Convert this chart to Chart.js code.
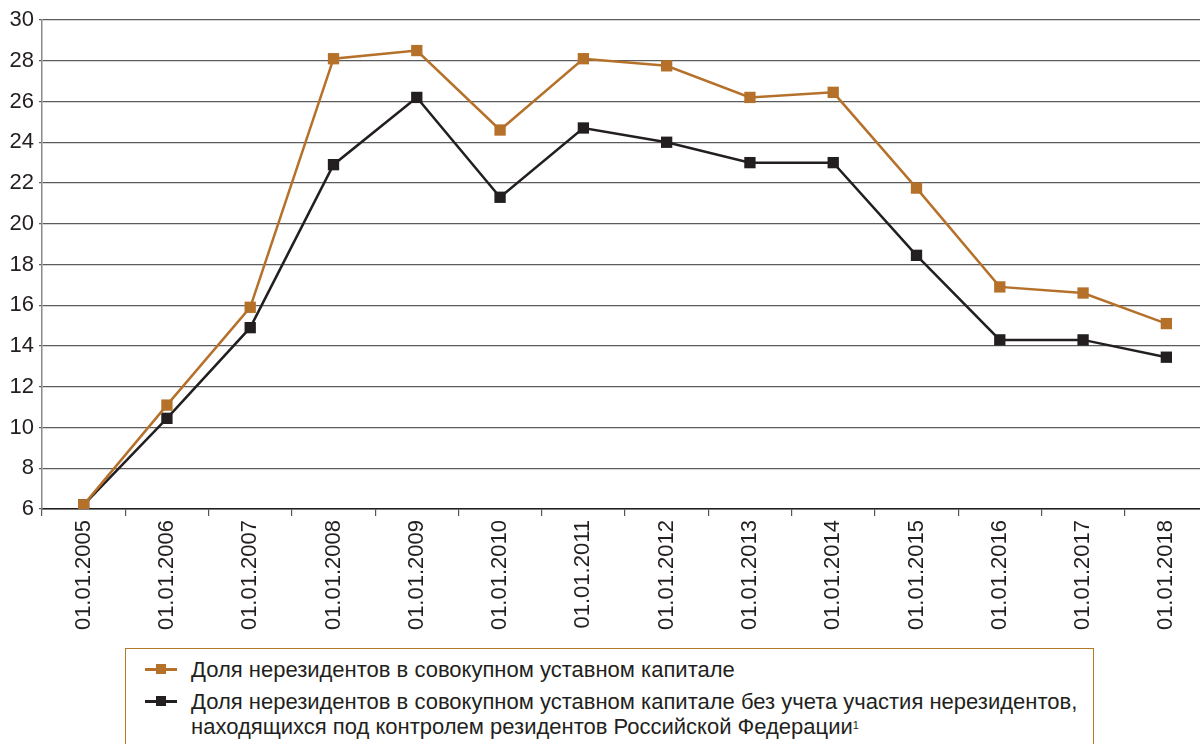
<!DOCTYPE html>
<html>
<head>
<meta charset="utf-8">
<script src="https://cdn.jsdelivr.net/npm/chart.js@4/dist/chart.umd.min.js"></script>
<style>
  html, body { margin: 0; padding: 0; background: #fff; overflow: hidden; width: 1200px; height: 744px; }
  #wrap { position: relative; width: 1216px; height: 640px; }
  #legend {
    position: absolute; left: 125px; top: 648px; width: 969px; height: 120px;
    border: 1px solid #b5782b; box-sizing: border-box;
    font-family: "Liberation Sans", Arial, sans-serif; font-size: 22px; color: #231f20;
    padding-top: 8px;
  }
  .item { display: flex; align-items: flex-start; margin-left: 19px; line-height: 25px; margin-bottom: 7px; }
  .item .mark { position: relative; width: 32px; height: 25px; margin-right: 14px; flex: none; }
  .item .mark .ln { position: absolute; left: 0; right: 0; top: 11px; height: 3px; }
  .item .mark .sq { position: absolute; left: 11px; top: 7px; width: 10px; height: 10px; }
  .item sup { font-size: 11px; vertical-align: top; position: relative; top: -1px; }
</style>
</head>
<body>
<div id="wrap"><canvas id="c" width="1216" height="640"></canvas></div>
<div id="legend"></div>
<script>
const categories = ['01.01.2005','01.01.2006','01.01.2007','01.01.2008','01.01.2009','01.01.2010','01.01.2011',
  '01.01.2012','01.01.2013','01.01.2014','01.01.2015','01.01.2016','01.01.2017','01.01.2018'];

// Доля нерезидентов в совокупном уставном капитале
const shareTotal = [6.2, 11.1, 15.9, 28.1, 28.5, 24.6, 28.1, 27.75, 26.2, 26.45, 21.75, 16.9, 16.6, 15.1];
// ... без учета участия нерезидентов под контролем резидентов РФ
const shareExclControlled = [6.2, 10.45, 14.9, 22.9, 26.2, 21.3, 24.7, 24.0, 23.0, 23.0, 18.45, 14.3, 14.3, 13.45];

const seriesLabels = [
  'Доля нерезидентов в совокупном уставном капитале',
  'Доля нерезидентов в совокупном уставном капитале без учета участия нерезидентов,<br>находящихся под контролем резидентов Российской Федерации<sup>1</sup>'
];
const seriesColors = ['#b5712a', '#231f20'];

const yMin = 6, yMax = 30, yStep = 2;
const tickFont = { family: '"Liberation Sans", Arial, sans-serif', size: 22 };

const ctx = document.getElementById('c');
new Chart(ctx, {
  type: 'line',
  data: {
    labels: categories,
    datasets: [
      { label: 'total', data: shareTotal },
      { label: 'excl', data: shareExclControlled }
    ].map((d, i) => ({
      ...d,
      borderColor: seriesColors[i],
      backgroundColor: seriesColors[i],
      borderWidth: 2.5,
      pointStyle: 'rect',
      pointRadius: 8,
      pointBorderWidth: 0,
      tension: 0
    }))
  },
  options: {
    responsive: false,
    animation: false,
    layout: { padding: { top: 20, right: 0, left: 0, bottom: 0 } },
    plugins: { legend: { display: false }, tooltip: { enabled: false } },
    scales: {
      x: {
        offset: true,
        grid: { offset: true, drawOnChartArea: false, drawTicks: true, tickLength: 7, color: '#555', lineWidth: 1.2 },
        border: { color: '#231f20', width: 1.5 },
        ticks: { color: '#231f20', maxRotation: 90, minRotation: 90, padding: 4, font: tickFont },
        afterFit: s => { s.height = 131; }
      },
      y: {
        min: yMin, max: yMax,
        grid: { color: '#5c5c5c', lineWidth: 1.3, drawTicks: true, tickLength: 3 },
        border: { color: '#8a8a8a', width: 1.5 },
        ticks: { stepSize: yStep, color: '#231f20', padding: 5, font: tickFont },
        afterFit: s => { s.width = 42; }
      }
    }
  }
});

// legend as html
const legend = document.getElementById('legend');
seriesLabels.forEach((txt, i) => {
  const row = document.createElement('div');
  row.className = 'item';
  row.innerHTML = '<span class="mark"><span class="ln" style="background:' + seriesColors[i] + '"></span>' +
    '<span class="sq" style="background:' + seriesColors[i] + '"></span></span><span>' + txt + '</span>';
  legend.appendChild(row);
});
</script>
</body>
</html>
